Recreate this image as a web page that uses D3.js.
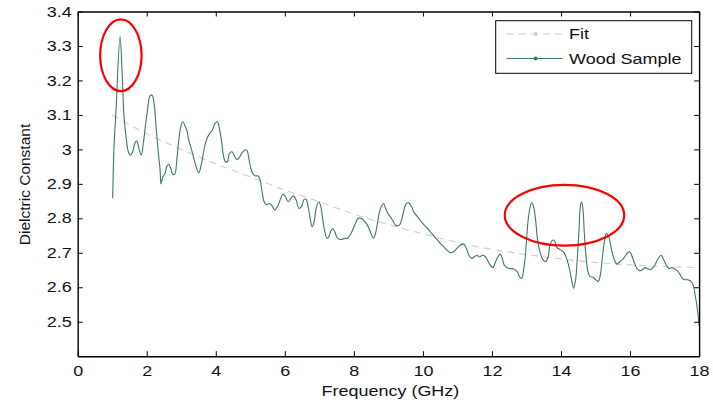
<!DOCTYPE html>
<html>
<head>
<meta charset="utf-8">
<script src="https://cdn.jsdelivr.net/npm/d3@7"></script>
<style>
  html, body { margin: 0; padding: 0; background: #fff; }
  svg { display: block; font-family: "Liberation Sans", Arial, sans-serif; }
</style>
</head>
<body>
<svg id="chart" width="713" height="404"></svg>
<script>
// Measured dielectric constant of the wood sample versus frequency
const freqGHz = [
  1.014, 1.052, 1.11, 1.226, 1.284, 1.342, 1.40, 1.467, 1.525, 1.594, 1.652, 1.71, 1.786, 1.843, 1.901, 1.959,
  2.017, 2.096, 2.154, 2.212, 2.27, 2.328, 2.386, 2.414, 2.464, 2.53, 2.58, 2.638, 2.696, 2.754, 2.812, 2.87, 2.928, 2.986,
  3.043, 3.101, 3.159, 3.217, 3.275, 3.351, 3.429, 3.507, 3.565, 3.623, 3.681, 3.739, 3.814, 3.893, 3.971,
  4.046, 4.104, 4.162, 4.22, 4.278, 4.336, 4.394, 4.472, 4.53, 4.609, 4.684, 4.762, 4.841, 4.899, 4.957,
  5.014, 5.072, 5.148, 5.226, 5.284, 5.342, 5.40, 5.478, 5.554, 5.632, 5.71, 5.786, 5.864, 5.942,
  6.017, 6.096, 6.174, 6.249, 6.328, 6.406, 6.481, 6.559, 6.617, 6.675, 6.733, 6.791, 6.849, 6.907, 6.986,
  7.043, 7.101, 7.159, 7.217, 7.275, 7.333, 7.391, 7.449, 7.507, 7.583, 7.661, 7.739, 7.814, 7.893, 7.971,
  8.046, 8.125, 8.203, 8.278, 8.357, 8.435, 8.51, 8.568, 8.626, 8.684, 8.742, 8.80, 8.858, 8.916, 8.974,
  9.052, 9.13, 9.206, 9.264, 9.322, 9.38, 9.438, 9.496, 9.554, 9.612, 9.67, 9.748, 9.826, 9.901, 9.98,
  10.058, 10.133, 10.212, 10.29, 10.406, 10.501, 10.597, 10.696, 10.791, 10.887, 10.986,
  11.081, 11.177, 11.255, 11.333, 11.409, 11.487, 11.565, 11.641, 11.719, 11.797, 11.872, 11.951,
  12.029, 12.104, 12.183, 12.241, 12.299, 12.357, 12.435, 12.51, 12.588, 12.667, 12.742, 12.80, 12.858, 12.916, 12.974,
  13.014, 13.072, 13.148, 13.206, 13.264, 13.322, 13.40, 13.478, 13.554, 13.632, 13.67, 13.748, 13.806, 13.864, 13.942,
  14.017, 14.096, 14.174, 14.249, 14.307, 14.365, 14.423, 14.481, 14.522, 14.559, 14.597, 14.638, 14.675, 14.733, 14.791, 14.849, 14.928,
  15.003, 15.081, 15.139, 15.197, 15.255, 15.313, 15.371, 15.429, 15.487, 15.545, 15.623, 15.699, 15.777, 15.855, 15.93, 15.988,
  16.046, 16.125, 16.203, 16.278, 16.357, 16.435, 16.51, 16.588, 16.667, 16.742, 16.82, 16.899, 16.974,
  17.052, 17.13, 17.206, 17.284, 17.362, 17.438, 17.516, 17.594, 17.67, 17.748, 17.826, 17.884, 17.942, 17.97, 18.0
];
const woodSample = [
  2.858, 3.008, 3.114, 3.328, 3.23, 3.095, 3.037, 2.993, 2.983, 2.993, 3.017, 3.025, 2.998, 2.983, 3.017, 3.066,
  3.11, 3.155, 3.157, 3.134, 3.066, 2.998, 2.94, 2.90, 2.92, 2.93, 2.95, 2.957, 2.945, 2.928, 2.928, 2.969, 3.027, 3.066,
  3.08, 3.07, 3.056, 3.027, 3.007, 2.979, 2.95, 2.932, 2.95, 2.979, 3.01, 3.03, 3.045, 3.054, 3.074,
  3.08, 3.061, 3.027, 2.983, 2.964, 2.964, 2.988, 2.993, 2.983, 2.971, 2.977, 2.99, 2.998, 2.998, 2.974,
  2.945, 2.93, 2.923, 2.923, 2.911, 2.877, 2.848, 2.839, 2.843, 2.836, 2.824, 2.834, 2.853, 2.87,
  2.863, 2.848, 2.858, 2.865, 2.853, 2.829, 2.834, 2.855, 2.855, 2.834, 2.80, 2.776, 2.79, 2.829, 2.848,
  2.834, 2.795, 2.761, 2.742, 2.747, 2.763, 2.77, 2.761, 2.745, 2.739, 2.739, 2.742, 2.742, 2.752, 2.768,
  2.786, 2.80, 2.80, 2.795, 2.786, 2.771, 2.752, 2.742, 2.756, 2.786, 2.819, 2.836, 2.843, 2.829, 2.816,
  2.805, 2.793, 2.78, 2.778, 2.78, 2.795, 2.819, 2.839, 2.845, 2.843, 2.834, 2.816, 2.807, 2.797, 2.787,
  2.778, 2.771, 2.761, 2.752, 2.739, 2.727, 2.718, 2.708, 2.70, 2.703, 2.713,
  2.722, 2.725, 2.713, 2.693, 2.684, 2.688, 2.693, 2.688, 2.693, 2.69, 2.678, 2.664,
  2.657, 2.674, 2.69, 2.696, 2.684, 2.664, 2.657, 2.654, 2.654, 2.651, 2.644, 2.63, 2.626, 2.65, 2.699,
  2.756, 2.814, 2.845, 2.834, 2.795, 2.737, 2.699, 2.68, 2.674, 2.69, 2.718, 2.736, 2.736, 2.718, 2.711,
  2.707, 2.699, 2.68, 2.651, 2.622, 2.597, 2.622, 2.699, 2.766, 2.834, 2.848, 2.824, 2.756, 2.68, 2.641, 2.631, 2.629,
  2.622, 2.617, 2.636, 2.686, 2.73, 2.756, 2.75, 2.727, 2.699, 2.68, 2.667, 2.674, 2.68, 2.69, 2.70, 2.703,
  2.693, 2.671, 2.654, 2.648, 2.651, 2.657, 2.654, 2.651, 2.657, 2.669, 2.684, 2.693, 2.68,
  2.664, 2.654, 2.657, 2.654, 2.648, 2.639, 2.626, 2.622, 2.622, 2.619, 2.607, 2.578, 2.543, 2.52, 2.488
];

// Decaying trend fitted through the measurement
const fitFreq = [1, 2, 3, 4, 5, 6, 7, 8, 9, 10, 11, 12, 13, 14, 15, 16, 17, 18];
const fitValue = [3.10, 3.045, 3.0, 2.958, 2.92, 2.882, 2.848, 2.812, 2.782, 2.755, 2.73, 2.71, 2.695, 2.682, 2.672, 2.665, 2.66, 2.657];

const xTicks = [0, 2, 4, 6, 8, 10, 12, 14, 16, 18];
const yTicks = [2.5, 2.6, 2.7, 2.8, 2.9, 3.0, 3.1, 3.2, 3.3, 3.4];
const yTickLabels = ["2.5", "2.6", "2.7", "2.8", "2.9", "3", "3.1", "3.2", "3.3", "3.4"];

const seriesNames = ["Fit", "Wood Sample"];

// Highlighted regions: [centre freq, centre value, half-width GHz, half-height]
const highlightFreq = [1.25, 14.1];
const highlightValue = [3.273, 2.809];
const highlightRx = [0.6, 1.73];
const highlightRy = [0.104, 0.088];

const svg = d3.select("#chart");
const x = d3.scaleLinear().domain([0, 18]).range([77.7, 699.1]);
const y = d3.scaleLinear().domain([2.4, 3.4]).range([356.2, 11.5]);

const fontSize = 14.5;
const stretch = 1.24;
const greenC = "#3b7a5c";
const fitC = "#d2cccc";

// Data lines
const fitData = fitFreq.map((f, i) => [f, fitValue[i]]);
const woodData = freqGHz.map((f, i) => [f, woodSample[i]]);

svg.append("path")
  .datum(fitData)
  .attr("fill", "none")
  .attr("stroke", fitC)
  .attr("stroke-width", 1.1)
  .attr("stroke-dasharray", "7,5")
  .attr("d", d3.line().x(d => x(d[0])).y(d => y(d[1])).curve(d3.curveMonotoneX));

svg.append("path")
  .datum(woodData)
  .attr("fill", "none")
  .attr("stroke", greenC)
  .attr("stroke-width", 1.1)
  .attr("stroke-linejoin", "round")
  .attr("d", d3.line().x(d => x(d[0])).y(d => y(d[1])).curve(d3.curveCatmullRom.alpha(0.5)));

// Axes (ticks inward, mirrored on top and right)
const tick = 5;
const bottomAxis = d3.axisBottom(x).tickValues(xTicks).tickFormat(d3.format("d"))
  .tickSizeInner(-tick).tickSizeOuter(0).tickPadding(9);
const topAxis = d3.axisTop(x).tickValues(xTicks).tickFormat("").tickSizeInner(-tick).tickSizeOuter(0);
const leftAxis = d3.axisLeft(y).tickValues(yTicks).tickFormat((d, i) => yTickLabels[i])
  .tickSizeInner(-tick).tickSizeOuter(0).tickPadding(6);
const rightAxis = d3.axisRight(y).tickValues(yTicks).tickFormat("").tickSizeInner(-tick).tickSizeOuter(0);

function styleAxis(g) {
  g.select(".domain").attr("stroke", "#000").attr("stroke-width", 1.4);
  g.selectAll(".tick line").attr("stroke", "#000").attr("stroke-width", 1);
  g.selectAll("text").attr("font-size", fontSize).attr("fill", "#111")
    .attr("font-family", "Liberation Sans, Arial, sans-serif");
}

const gB = svg.append("g").attr("transform", `translate(0,${y.range()[0]})`).call(bottomAxis).call(styleAxis);
gB.selectAll("text").attr("transform", `scale(${stretch},1)`).attr("y", 9.5);
svg.append("g").attr("transform", `translate(0,${y.range()[1]})`).call(topAxis).call(styleAxis);
const gL = svg.append("g").attr("transform", `translate(${x.range()[0]},0)`).call(leftAxis).call(styleAxis);
gL.selectAll("text").attr("x", -6 / stretch).attr("transform", `scale(${stretch},1)`);
svg.append("g").attr("transform", `translate(${x.range()[1]},0)`).call(rightAxis).call(styleAxis);

// Axis titles
svg.append("text")
  .attr("transform", `translate(${(x.range()[0] + x.range()[1]) / 2 + 2},396) scale(${stretch},1)`)
  .attr("text-anchor", "middle")
  .attr("font-size", fontSize)
  .attr("fill", "#111")
  .text("Frequency (GHz)");

svg.append("text")
  .attr("transform", "translate(29.5,184.5) rotate(-90)")
  .attr("text-anchor", "middle")
  .attr("font-size", 15.5)
  .attr("fill", "#111")
  .text("Dielctric Constant");

// Highlight ellipses
highlightFreq.forEach((f, i) => {
  svg.append("ellipse")
    .attr("cx", x(f))
    .attr("cy", y(highlightValue[i]))
    .attr("rx", x(f + highlightRx[i]) - x(f))
    .attr("ry", y(highlightValue[i] - highlightRy[i]) - y(highlightValue[i]))
    .attr("fill", "none")
    .attr("stroke", "#ff0000")
    .attr("stroke-width", 2.2);
});

// Legend
const legend = svg.append("g");
legend.append("rect")
  .attr("x", 495.7).attr("y", 20.7).attr("width", 196).attr("height", 52.6)
  .attr("fill", "#fff").attr("stroke", "#000").attr("stroke-width", 1);

const legendRows = [
  { name: seriesNames[0], color: fitC, dash: "7,5", yPos: 34 },
  { name: seriesNames[1], color: greenC, dash: null, yPos: 58.5 }
];
legendRows.forEach(r => {
  legend.append("line")
    .attr("x1", 506.7).attr("x2", 562.7).attr("y1", r.yPos).attr("y2", r.yPos)
    .attr("stroke", r.color).attr("stroke-width", 1.2)
    .attr("stroke-dasharray", r.dash);
  legend.append("circle")
    .attr("cx", 535.7).attr("cy", r.yPos).attr("r", 2)
    .attr("fill", r.color);
  legend.append("text")
    .attr("transform", `translate(569,${r.yPos + 5.3}) scale(${stretch},1)`)
    .attr("font-size", fontSize)
    .attr("fill", "#111")
    .text(r.name);
});
</script>
</body>
</html>
